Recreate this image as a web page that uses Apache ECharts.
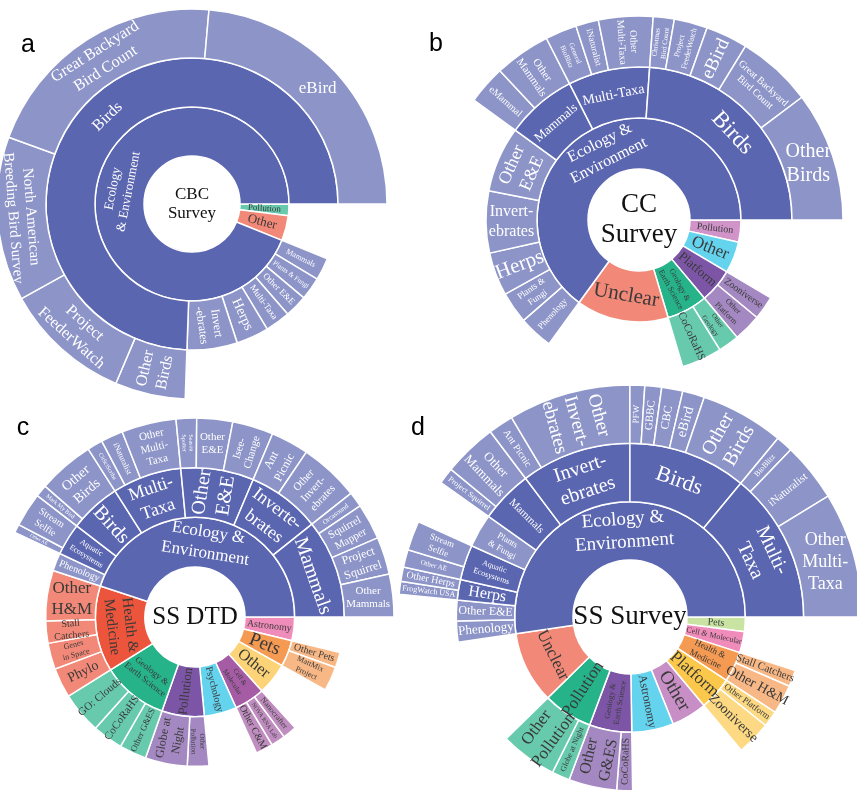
<!DOCTYPE html>
<html><head><meta charset="utf-8">
<script src="https://cdn.jsdelivr.net/npm/echarts@6.0.0/dist/echarts.min.js"></script>
<style>html,body{margin:0;padding:0;background:#fff}#c{width:857px;height:790px}</style>
</head><body><div id="c"></div>
<script>
// ---------- Chart a : CBC Survey ----------
const aLabels = ['Ecology\n& Environment','Birds','eBird','Great Backyard\nBird Count','North American\nBreeding Bird Survey','Project\nFeederWatch','Other\nBirds','Invert\n-ebrates','Herps','Multi-Taxa','Other E&E','Plants & Fungi','Mammals','Other','Pollution'];
const aParents = [-1,0,1,1,1,1,1,0,0,0,0,0,0,-1,-1];
const aValues = [0,0,85,75,49,38,21,20,13,10,9,9,9,15,7];

// ---------- Chart b : CC Survey ----------
const bLabels = ['Ecology &\nEnvironment','Birds','Other\nBirds','Great Backyard\nBird Count','eBird','Project\nFeederWatch','Christmas\nBird Count','Multi-Taxa','Other\nMulti-Taxa','iNaturalist','General\nBioBlitz','Mammals','Other\nMammals','eMammal','Other\nE&E','Invert-\nebrates','Herps','Plants &\nFungi','Phenology','Unclear','Geology &\nEarth Science','CoCoRaHS','Other\nGeology','Platform','Other\nPlatform','Zooniverse','Other','Pollution'];
const bParents = [-1,0,1,1,1,1,1,0,7,7,7,0,11,11,0,0,0,0,0,-1,-1,20,20,-1,23,23,-1,-1];
const bValues = [0,0,37,21.5,12,9.5,6,0,15.5,6.5,9,0,16,11,25,23.5,16.5,12,13,52.6,0,15.3,8,0,10.5,9,18,12.6];

// ---------- Chart c : SS DTD ----------
const cLabels = ['Ecology &\nEnvironment','Mammals','Other\nMammals','Project\nSquirrel','Squirrel\nMapper','Orcasound','Inverte-\nbrates','Other\nInvert-\nebrates','Ant\nPicnic','Other\nE&E','Isee-\nChange','Other\nE&E','Season\nSpotter','Multi-\nTaxa','Other\nMulti-\nTaxa','iNaturalist','CitSciScribe','Birds','Other\nBirds','Mark My Bird','Aquatic\nEcosystems','Stream\nSelfie','Other AE','Phenology','Health &\nMedicine','Other\nH&M','Stall\nCatchers','Genes\nin Space','Phylo','Geology &\nEarth Science','GO: Clouds','CoCoRaHS','Other G&ES','Pollution','Globe at\nNight','Other\nPollution','Psychology','Cell &\nMolecular','Other C&M','NOVA RNA Lab','Nanocrafter','Other','Pets','MattMix\nProject','Other Pets','Astronomy'];
const cParents = [-1,0,1,1,1,1,0,6,6,0,9,9,9,0,13,13,13,0,17,17,0,20,20,0,-1,24,24,24,24,-1,29,29,29,-1,33,33,-1,-1,37,37,37,-1,-1,42,42,-1];
const cValues = [0,0,12.5,11,10.5,4.5,0,17.6,11.1,0,12,10.5,6,0,16,6.5,4.5,0,16.5,3.5,0,10,2.5,7,0,19.7,8.7,10.2,11.7,0,16.2,11.9,10.6,0,16.4,8.4,19,0,6.7,5.6,5.5,18.7,0,9.5,6,13.8];

// ---------- Chart d : SS Survey ----------
const dLabels = ['Ecology &\nEnvironment','Multi-\nTaxa','Other\nMulti-\nTaxa','iNaturalist','BioBlitz','Birds','Other\nBirds','eBird','CBC','GBBC','PFW','Invert-\nebrates','Other\nInvert-\nebrates','Ant Picnic','Mammals','Other\nMammals','Project Squirrel','Plants\n& Fungi','Aquatic\nEcosystems','Stream\nSelfie','Other AE','Herps','Other Herps','FrogWatch USA','Other E&E','Phenology','Unclear','Pollution','Other\nPollution','Globe at Night','Geology &\nEarth Science','Other\nG&ES','CoCoRaHS','Astronomy','Other','Platform','Zooniverse','Other Platform','Health &\nMedicine','Other H&M','Stall Catchers','Cell & Molecular','Pets'];
const dParents = [-1,0,1,1,1,0,5,5,5,5,5,0,11,11,0,14,14,0,0,18,18,0,21,21,0,0,-1,-1,27,27,-1,30,30,-1,-1,-1,35,35,-1,38,38,-1,-1];
const dValues = [0,0,31.4,14.8,4.2,0,21,5.5,5.3,4.2,3.7,0,30.7,6.3,0,13.5,4.1,11.2,0,7.4,4.4,0,3.6,3.2,7,7,36.2,0,19,6,0,16.1,5.3,21.1,17.9,0,11.5,5.4,0,9.8,5.5,10.7,7.3];

const centerTexts = ['CBC\nSurvey','CC\nSurvey','SS DTD','SS Survey'];
const panelLetters = ['a','b','c','d'];

// ---------- styles (kept apart from data) ----------
const aRot = ['t','t',0,'t','t','t','r','r','r','r','r','r','r','r','r'];
const aFont = [13,16,17,16,15,16,16,12,14,9,9,7,8,13,9];
const aColors = ['#5b66b0','#ec553c','#27b38a'];

const bRot = ['t','t',0,'t','r','r','r','t','r','r','r','t','r','r','t',0,'r','r','r','t','r','r','r','r','r','r','r','r'];
const bFont = [16,23,20,10,19,8,7,14,10,9,7,13,11,10,18,16,21,9,9,21,8,11,7,13,8,10,17,10];
const bColors = ['#5b66b0','#ec553c','#27b38a','#7d55a6','#22c0e6','#bd66b2'];

const cRot = ['t','t',0,'r','r','r','t','r','r','r','r',0,'r','t','t','r','r','r','t','r','r','r','r','r','t',0,'r','r','r','t','r','r','r','r','r','r','r','r','r','r','r','r','r','r','r','r'];
const cFont = [17,20,11,12,11,7,18,11,12,20,11,11,6,18,11,8,6,20,14,6,8,10,5,10,15,17,10,8,14,9,11,11,9,13,12,7,10,7,10,6,8,16,19,8,10,10];
const cColors = ['#5b66b0','#ec553c','#27b38a','#7d55a6','#22c0e6','#a55ca5','#fac23c','#f59a52','#e95b9d'];

const dRot = ['t','t',0,'r','r','t','r','r','r','r','r','t','r','r','r','r','r','r','r','r','r','r','r','r','r','r','t','r','r','r','r','r','r','r','r','r','r','r','r','r','r','r','r'];
const dFont = [19,20,18,11,8,22,20,14,12,11,9,20,19,10,11,13,8,9,8,9,7,16,10,8,12,13,17,17,17,8,8,16,10,12,19,17,14,9,9,14,11,8,10];
const dColors = ['#5b66b0','#ec553c','#27b38a','#7d55a6','#22c0e6','#b05fae','#fbc84c','#f59a52','#e95b9d','#b2d97a'];

const FONT = '"Liberation Serif", "DejaVu Serif", serif';

function lighten(hex){
  const n = parseInt(hex.slice(1),16);
  const r=(n>>16)&255,g=(n>>8)&255,b=n&255;
  const f=c=>Math.round(c*0.7+255*0.3);
  return 'rgb('+f(r)+','+f(g)+','+f(b)+')';
}
function reverseDeep(arr){
  arr.reverse();
  arr.forEach(n=>{ if(n.children) reverseDeep(n.children); });
  return arr;
}
function build(labels, parents, values, rot, font, colors){
  const nodes = labels.map(l=>({name:l}));
  const top = labels.map((_,i)=>{let j=i; while(parents[j]!==-1) j=parents[j]; return j;});
  const topOrder=[]; parents.forEach((p,i)=>{ if(p===-1) topOrder.push(i); });
  const hasChild = labels.map(()=>false); parents.forEach(p=>{ if(p>=0) hasChild[p]=true; });
  const roots=[];
  labels.forEach((l,i)=>{
    const base = colors[topOrder.indexOf(top[i])];
    const n = nodes[i];
    if(!hasChild[i]) n.value = values[i];
    n.itemStyle = {color: hasChild[i] ? base : lighten(base)};
    const r = rot[i];
    n.label = {
      rotate: r==='t' ? 'tangential' : (r==='r' ? 'radial' : r),
      fontSize: font[i],
      lineHeight: Math.round(font[i]*1.22),
      color: base==='#5b66b0' ? '#ffffff' : '#3a3a3a'
    };
    if(parents[i]===-1) roots.push(n);
    else (nodes[parents[i]].children = nodes[parents[i]].children || []).push(n);
  });
  return reverseDeep(roots);
}

const panels = [
  {data: build(aLabels,aParents,aValues,aRot,aFont,aColors), center:[192,204], radius:[48,195], cfont:17, letter:[28,45]},
  {data: build(bLabels,bParents,bValues,bRot,bFont,bColors), center:[639,220], radius:[51,204], cfont:27, letter:[436,44]},
  {data: build(cLabels,cParents,cValues,cRot,cFont,cColors), center:[195,617], radius:[50,199], cfont:25, letter:[23,428]},
  {data: build(dLabels,dParents,dValues,dRot,dFont,dColors), center:[630,617], radius:[57,232], cfont:27, letter:[418,428]}
];

const series = panels.map(p=>({
  type:'sunburst', center:p.center, radius:p.radius, startAngle:0, sort:null, nodeClick:false,
  data:p.data,
  itemStyle:{borderColor:'#ffffff', borderWidth:1.5},
  label:{fontFamily:FONT, padding:0, position:'inside'},
  emphasis:{disabled:true}
}));

const graphics = [];
panels.forEach((p,i)=>{
  graphics.push({type:'text', x:p.center[0], y:p.center[1], silent:true,
    style:{text:centerTexts[i], fill:'#111', font:p.cfont+'px '+FONT, align:'center', verticalAlign:'middle', lineHeight:Math.round(p.cfont*1.1)}});
  graphics.push({type:'text', x:p.letter[0], y:p.letter[1], silent:true,
    style:{text:panelLetters[i], fill:'#000', font:'25px "Liberation Sans", Arial, sans-serif', align:'center', verticalAlign:'middle'}});
});

const chart = echarts.init(document.getElementById('c'));
chart.setOption({animation:false, series:series, graphic:graphics});
</script>
</body></html>
